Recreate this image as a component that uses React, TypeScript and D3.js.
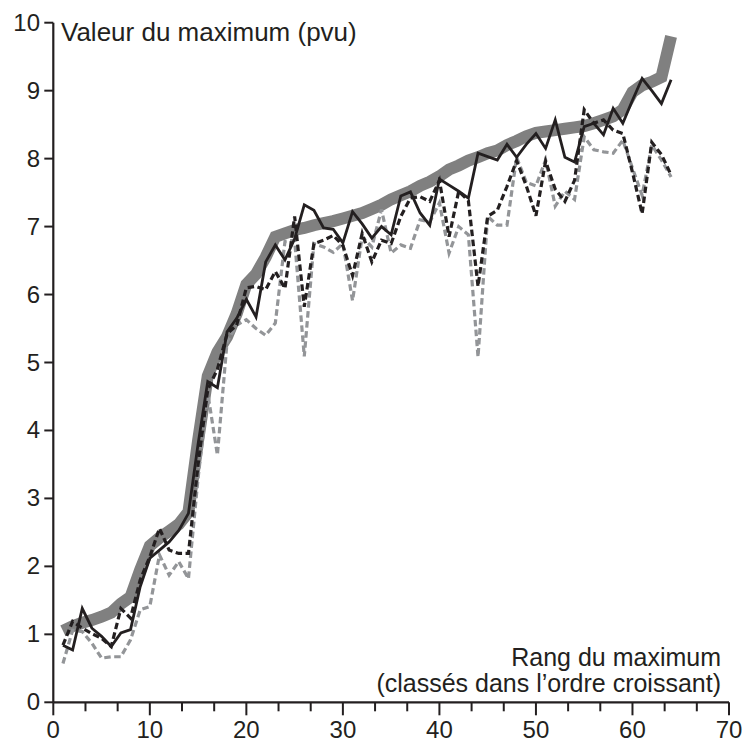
import React from "react";
import * as d3 from "d3";

const ranks: number[] = d3.range(1, 65);

const sortedMax: number[] = [
  1.05, 1.12, 1.17, 1.21, 1.26, 1.32, 1.45, 1.55, 1.95, 2.3,
  2.42, 2.52, 2.62, 2.8, 3.85, 4.8, 5.15, 5.38, 5.72, 6.15,
  6.3, 6.55, 6.85, 6.9, 6.95, 6.98, 7.02, 7.05, 7.08, 7.12,
  7.16, 7.2, 7.26, 7.32, 7.4, 7.46, 7.52, 7.6, 7.66, 7.74,
  7.84, 7.9, 7.97, 8.02, 8.08, 8.12, 8.2, 8.26, 8.33, 8.38,
  8.4, 8.42, 8.44, 8.46, 8.48, 8.52, 8.57, 8.62, 8.72, 8.98,
  9.08, 9.13, 9.2, 9.8,
];

const blackSolid: number[] = [
  0.84, 0.77, 1.38, 1.09, 0.97, 0.82, 1.02, 1.07, 1.7, 2.12,
  2.24, 2.36, 2.53, 2.78, 3.8, 4.72, 4.63, 5.45, 5.65, 5.93,
  5.67, 6.48, 6.73, 6.51, 6.82, 7.32, 7.24, 6.98, 6.96, 6.76,
  7.22, 7.04, 6.83, 7.0, 6.88, 7.45, 7.51, 7.2, 7.02, 7.7,
  7.61, 7.52, 7.42, 8.08, 8.03, 7.98, 8.21, 8.02, 8.21, 8.37,
  8.15, 8.57, 8.02, 7.95, 8.47, 8.52, 8.35, 8.74, 8.52, 8.86,
  9.18, 9.0, 8.81, 9.16,
];

const blackDashed: number[] = [
  0.84, 1.19, 1.09, 1.01, 0.94, 0.82, 1.38, 1.24, 1.8, 2.14,
  2.56, 2.24, 2.19, 2.19, 3.5, 4.6, 4.9, 5.42, 5.55, 6.1,
  6.12, 6.07, 6.34, 6.09, 7.15, 5.82, 6.75, 6.8, 6.87, 6.72,
  6.28, 6.9, 6.48, 6.8, 6.75, 7.15, 7.42, 7.44, 7.37, 7.68,
  6.85, 7.52, 7.38, 6.12, 7.15, 7.24, 7.59, 7.97, 7.6, 7.16,
  7.96, 7.55, 7.37, 7.68, 8.72, 8.52, 8.57, 8.42, 8.37, 7.8,
  7.19, 8.24, 8.06, 7.76,
];

const grayDashed: number[] = [
  0.57, 1.06, 1.04, 0.87, 0.65, 0.67, 0.67, 0.92, 1.36, 1.41,
  2.17, 1.87, 2.07, 1.82, 3.3, 4.55, 3.64, 5.3, 5.55, 5.63,
  5.5, 5.4, 5.58, 6.78, 6.8, 5.09, 6.75, 6.7, 6.62, 6.75,
  5.91, 6.85, 6.7, 7.25, 6.61, 6.73, 6.68, 7.1, 7.07, 7.35,
  6.61, 7.0, 6.88, 5.08, 7.15, 7.02, 7.02, 8.02, 7.65, 7.6,
  7.98, 7.3, 7.52, 7.4, 8.32, 8.13, 8.1, 8.08, 8.27, 7.86,
  7.46, 8.2, 7.98, 7.73,
];

const xMajorTicks: number[] = [0, 10, 20, 30, 40, 50, 60, 70];
const yTicks: number[] = [0, 1, 2, 3, 4, 5, 6, 7, 8, 9, 10];

const yTitle = "Valeur du maximum (pvu)";
const xTitle1 = "Rang du maximum";
const xTitle2 = "(classés dans l’ordre croissant)";

const W = 746;
const H = 748;
const INK = "#231f20";
const FONT = "'Liberation Sans', Arial, Helvetica, sans-serif";

export default function App() {
  const x = d3.scaleLinear().domain([0, 70]).range([53.3, 729]);
  const y = d3.scaleLinear().domain([0, 10]).range([702.3, 22.7]);

  const mk = (vals: number[]) =>
    d3
      .line<number>()
      .x((_, i) => x(ranks[i]))
      .y((v) => y(v))(vals) || "";

  const minorTicks = d3
    .range(0, 22)
    .map((k) => (k * 10) / 3)
    .filter((v) => Math.abs(v / 10 - Math.round(v / 10)) > 1e-6);

  return (
    <svg
      width={W}
      height={H}
      style={{ position: "absolute", left: 0, top: 0, background: "#fff" }}
      fontFamily={FONT}
    >
      <rect x={0} y={0} width={W} height={H} fill="#fff" />
      {/* series */}
      <path d={mk(sortedMax)} fill="none" stroke="#808080" strokeWidth={12} strokeLinejoin="miter" />
      <path d={mk(grayDashed)} fill="none" stroke="#939598" strokeWidth={3.2} strokeDasharray="6.5,3.5" />
      <path d={mk(blackDashed)} fill="none" stroke={INK} strokeWidth={3.2} strokeDasharray="6.5,3.5" />
      <path d={mk(blackSolid)} fill="none" stroke={INK} strokeWidth={2.8} strokeLinejoin="miter" />

      {/* axes */}
      <line x1={x(0)} x2={x(70)} y1={y(0)} y2={y(0)} stroke={INK} strokeWidth={2.2} />
      <line x1={x(0)} x2={x(0)} y1={y(0)} y2={y(10)} stroke={INK} strokeWidth={2.2} />
      {xMajorTicks.map((t) => (
        <g key={"xm" + t}>
          <line x1={x(t)} x2={x(t)} y1={y(0)} y2={y(0) + 13} stroke={INK} strokeWidth={2} />
          <text x={x(t)} y={738} textAnchor="middle" fontSize={24} fill={INK}>
            {t}
          </text>
        </g>
      ))}
      {minorTicks.map((t) => (
        <line key={"xn" + t} x1={x(t)} x2={x(t)} y1={y(0)} y2={y(0) + 9} stroke={INK} strokeWidth={2} />
      ))}
      {yTicks.map((t) => (
        <g key={"y" + t}>
          <line x1={x(0) - 9} x2={x(0)} y1={y(t)} y2={y(t)} stroke={INK} strokeWidth={2} />
          <text x={40} y={y(t) + 8} textAnchor="end" fontSize={24} fill={INK}>
            {t}
          </text>
        </g>
      ))}

      <text x={61} y={41} fontSize={26} fill={INK}>
        {yTitle}
      </text>
      <text x={721} y={666} textAnchor="end" fontSize={25} fill={INK}>
        {xTitle1}
      </text>
      <text x={721} y={692} textAnchor="end" fontSize={25} fill={INK}>
        {xTitle2}
      </text>
    </svg>
  );
}
